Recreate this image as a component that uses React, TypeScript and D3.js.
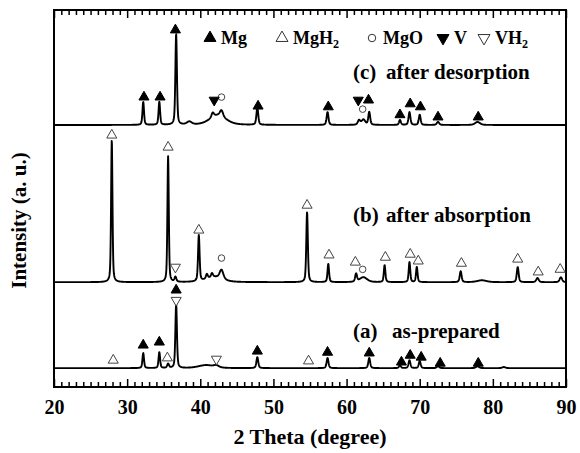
import React, { useEffect, useRef } from 'react';
import * as d3 from 'd3';

const W = 580;
const H = 453;
const margin = { top: 10, right: 14, bottom: 66, left: 54 };

// x axis (2 theta, degree)
const xTicks = [20, 30, 40, 50, 60, 70, 80, 90];

// vertical offsets (a.u.) of the three patterns
const offsetA = 50;
const offsetB = 278;
const offsetC = 695;

// peaks: [2theta, height a.u., FWHM deg]
const peaksA = [
  [32.2, 40, 0.25], [34.4, 42, 0.25], [35.6, 11, 0.3], [36.7, 170, 0.25],
  [40.8, 8, 2.5], [42.2, 5, 0.8], [47.8, 29, 0.3], [57.4, 27, 0.3],
  [63.1, 27, 0.3], [67.3, 8, 0.3], [68.6, 21, 0.3], [70.0, 19, 0.3],
  [72.5, 5, 0.4], [77.9, 5, 0.5], [81.5, 3, 0.5],
];
const peaksB = [
  [27.9, 377, 0.22], [35.6, 334, 0.22], [36.6, 13, 0.3], [39.8, 122, 0.25],
  [40.9, 12, 0.3], [41.6, 10, 0.3], [41.9, 14, 2.6], [42.9, 24, 0.6],
  [54.6, 186, 0.25], [57.5, 48, 0.25], [61.3, 21, 0.3], [62.3, 13, 1.2],
  [65.2, 45, 0.25], [68.6, 53, 0.25], [69.6, 40, 0.25], [75.6, 29, 0.3],
  [78.5, 5, 1.5], [83.4, 40, 0.3], [86.1, 11, 0.4], [89.3, 13, 0.4],
];
const peaksC = [
  [32.2, 61, 0.25], [34.4, 61, 0.25], [36.7, 241, 0.25], [38.5, 8, 0.8],
  [42.4, 26, 2.6], [41.7, 12, 0.4], [42.9, 16, 0.5], [47.8, 45, 0.3],
  [57.4, 34, 0.3], [61.7, 12, 0.4], [62.3, 14, 0.6], [63.1, 34, 0.3],
  [67.3, 13, 0.3], [68.6, 34, 0.3], [70.0, 27, 0.3], [72.5, 8, 0.4],
  [77.9, 8, 0.8],
];

// phase markers: [2theta, height above the pattern baseline, a.u.]
const mgA = [[32.2, 61], [34.4, 69], [36.7, 207], [47.8, 45], [57.4, 42], [63.1, 40], [67.5, 16], [68.7, 34], [70.2, 29], [72.8, 13], [78.0, 13]];
const mgC = [[32.3, 74], [34.5, 74], [36.6, 252], [47.9, 50], [57.5, 48], [63.0, 66], [67.3, 27], [68.7, 56], [70.1, 48], [72.5, 21], [78.0, 21]];
const mgh2A = [[28.1, 21], [35.5, 27], [54.8, 19]];
const mgh2B = [[27.9, 390], [35.6, 358], [39.8, 138], [54.6, 204], [57.6, 72], [61.2, 53], [65.3, 66], [68.7, 74], [69.8, 56], [75.7, 50], [83.4, 61], [86.2, 27], [89.2, 34]];
const mgoB = [[42.9, 64], [62.2, 34]];
const mgoC = [[42.9, 74], [62.2, 42]];
const vC = [[41.9, 66], [61.6, 66]];
const vh2A = [[36.7, 180], [42.2, 24]];
const vh2B = [[36.6, 40]];

const legendItems = [
  { sym: 'tri', fill: '#000', label: 'Mg', sub: '', x: 210 },
  { sym: 'tri', fill: '#fff', label: 'MgH', sub: '2', x: 282 },
  { sym: 'circle', fill: '#fff', label: 'MgO', sub: '', x: 372 },
  { sym: 'down', fill: '#000', label: 'V', sub: '', x: 443 },
  { sym: 'down', fill: '#fff', label: 'VH', sub: '2', x: 484 },
];

const fontCss = "font-family: 'Liberation Serif', 'Times New Roman', Times, serif; font-weight: bold;";

function profile(peaks: number[][], offset: number) {
  const pts: [number, number][] = [];
  for (let t = 20; t <= 90.0001; t += 0.03) {
    let v = offset;
    for (const [p, h, w] of peaks) {
      const z = (t - p) / (w / 2);
      v += h * (0.55 * Math.exp(-Math.LN2 * z * z) + 0.45 / (1 + z * z));
    }
    pts.push([t, v]);
  }
  return pts;
}

export default function App() {
  const ref = useRef<SVGSVGElement>(null);

  useEffect(() => {
    const svg = d3.select(ref.current);
    svg.selectAll('*').remove();
    const iw = W - margin.left - margin.right;
    const ih = H - margin.top - margin.bottom;

    const x = d3.scaleLinear().domain([20, 90]).range([margin.left, margin.left + iw]);
    const y = d3.scaleLinear().domain([0, 1000]).range([margin.top + ih, margin.top]);

    const line = d3.line<[number, number]>()
      .x(d => x(d[0]))
      .y(d => y(d[1]));

    const traces = [
      { peaks: peaksA, off: offsetA },
      { peaks: peaksB, off: offsetB },
      { peaks: peaksC, off: offsetC },
    ];
    svg.append('g')
      .selectAll('path')
      .data(traces)
      .enter()
      .append('path')
      .attr('d', d => line(profile(d.peaks, d.off)))
      .attr('fill', 'none')
      .attr('stroke', '#000')
      .attr('stroke-width', 1.9)
      .attr('stroke-linejoin', 'round');

    // axes with inward ticks
    const minors = d3.range(20, 91, 1).filter(v => v % 10 !== 0);
    const bottom = margin.top + ih;
    const gb = svg.append('g').attr('transform', `translate(0,${bottom})`);
    gb.call(d3.axisBottom(x).tickValues(xTicks).tickSize(-8).tickPadding(13).tickFormat(d3.format('d')));
    gb.append('g').call(d3.axisBottom(x).tickValues(minors).tickSize(-5).tickFormat(() => ''));
    const gt = svg.append('g').attr('transform', `translate(0,${margin.top})`);
    gt.call(d3.axisTop(x).tickValues(xTicks).tickSize(-8).tickFormat(() => ''));
    gt.append('g').call(d3.axisTop(x).tickValues(minors).tickSize(-5).tickFormat(() => ''));
    svg.selectAll('.domain').remove();
    svg.selectAll('.tick line').attr('stroke', '#000').attr('stroke-width', 1.5);
    gb.attr('font-family', null).attr('font-size', null);
    gb.selectAll('.tick text')
      .attr('style', fontCss + ' font-size: 20px;')
      .attr('fill', '#000');

    svg.append('rect')
      .attr('x', margin.left)
      .attr('y', margin.top)
      .attr('width', iw)
      .attr('height', ih)
      .attr('fill', 'none')
      .attr('stroke', '#000')
      .attr('stroke-width', 2);

    // markers
    const tri = d3.symbol().type(d3.symbolTriangle).size(44);
    const circ = d3.symbol().type(d3.symbolCircle).size(34);
    const addMarks = (data: number[][], off: number, kind: string, fill: string) => {
      svg.append('g')
        .selectAll('path')
        .data(data)
        .enter()
        .append('path')
        .attr('d', kind === 'circle' ? circ() : tri())
        .attr('transform', d => `translate(${x(d[0])},${y(off + d[1])})${kind === 'down' ? ' rotate(180)' : ''}`)
        .attr('fill', fill)
        .attr('stroke', fill === '#000' ? '#000' : '#444')
        .attr('stroke-width', 1);
    };
    addMarks(mgA, offsetA, 'tri', '#000');
    addMarks(mgC, offsetC, 'tri', '#000');
    addMarks(mgh2A, offsetA, 'tri', '#fff');
    addMarks(mgh2B, offsetB, 'tri', '#fff');
    addMarks(mgoB, offsetB, 'circle', '#fff');
    addMarks(mgoC, offsetC, 'circle', '#fff');
    addMarks(vC, offsetC, 'down', '#000');
    addMarks(vh2A, offsetA, 'down', '#fff');
    addMarks(vh2B, offsetB, 'down', '#fff');

    // legend
    const lg = svg.append('g');
    const legTri = d3.symbol().type(d3.symbolTriangle).size(62);
    const legCirc = d3.symbol().type(d3.symbolCircle).size(44);
    legendItems.forEach(it => {
      lg.append('path')
        .attr('d', it.sym === 'circle' ? legCirc() : legTri())
        .attr('transform', `translate(${it.x},38)${it.sym === 'down' ? ' rotate(180)' : ''}`)
        .attr('fill', it.fill)
        .attr('stroke', it.fill === '#000' ? '#000' : '#333')
        .attr('stroke-width', 1);
      const t = lg.append('text')
        .attr('x', it.x + 11)
        .attr('y', 44)
        .attr('style', fontCss + ' font-size: 18px;')
        .text(it.label);
      if (it.sub) {
        t.append('tspan').attr('style', 'font-size: 12px;').attr('dy', 4).text(it.sub);
      }
    });

    // pattern labels
    const labels = [
      { tag: '(c)', txt: 'after desorption', y: 79 },
      { tag: '(b)', txt: 'after absorption', y: 222 },
      { tag: '(a)', txt: 'as-prepared', y: 338 },
    ];
    labels.forEach(l => {
      svg.append('text')
        .attr('x', 353).attr('y', l.y)
        .attr('style', fontCss + ' font-size: 21px;')
        .text(l.tag);
      svg.append('text')
        .attr('x', l.tag === '(a)' ? 392 : 386).attr('y', l.y)
        .attr('style', fontCss + ' font-size: 21px;')
        .text(l.txt);
    });

    // axis titles
    svg.append('text')
      .attr('x', margin.left + iw / 2)
      .attr('y', 444)
      .attr('text-anchor', 'middle')
      .attr('style', fontCss + ' font-size: 22px;')
      .text('2 Theta (degree)');
    svg.append('text')
      .attr('transform', `translate(26,${margin.top + ih / 2 + 22}) rotate(-90)`)
      .attr('text-anchor', 'middle')
      .attr('style', fontCss + ' font-size: 21px;')
      .text('Intensity (a. u.)');
  }, []);

  return (
    <svg
      ref={ref}
      width={W}
      height={H}
      style={{ position: 'absolute', left: 0, top: 0, background: '#fff' }}
    />
  );
}
